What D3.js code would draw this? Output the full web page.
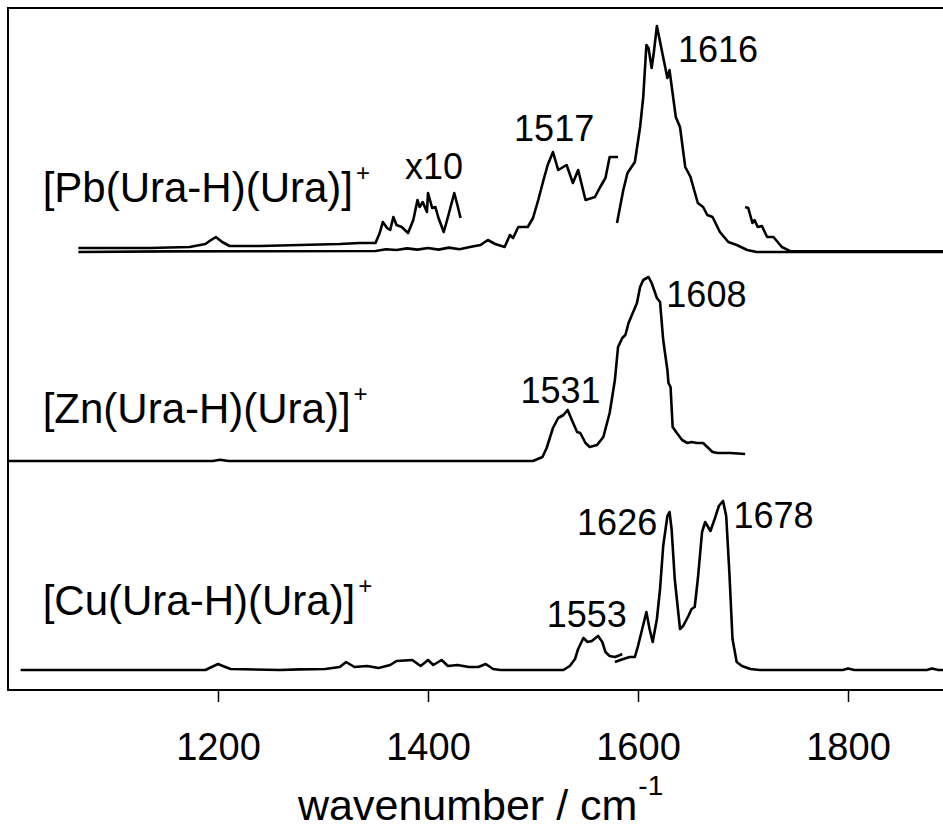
<!DOCTYPE html>
<html>
<head>
<meta charset="utf-8">
<script src="https://cdn.jsdelivr.net/npm/d3@7"></script>
<style>
  body { margin: 0; background: #fff; }
  svg { display: block; font-family: "Liberation Sans", Arial, sans-serif; }
</style>
</head>
<body>
<div id="spectra"></div>
<script>
// IRMPD spectra of [M(Ura-H)(Ura)]+ complexes, stacked

// --- data: [wavenumber, intensity] (intensity in arbitrary units) ---

// Pb, low-energy scan (up to ~1580)
const pbLow = [
  [1067, 0], [1150, 0.003], [1250, 0.004], [1350, 0.005], [1360, 0.014], [1370, 0.01],
  [1380, 0.018], [1390, 0.012], [1400, 0.02], [1410, 0.012], [1420, 0.022], [1430, 0.014],
  [1440, 0.025], [1450, 0.035], [1457, 0.06], [1464, 0.04], [1473, 0.025], [1478, 0.085],
  [1481, 0.07], [1486, 0.125], [1495, 0.125], [1500, 0.17], [1505, 0.26], [1510, 0.36],
  [1514, 0.435], [1519, 0.5], [1524, 0.41], [1532, 0.435], [1538, 0.345], [1543, 0.41],
  [1550, 0.26], [1559, 0.275], [1564, 0.325], [1569, 0.37], [1573, 0.475], [1581, 0.475]
];

// Pb, same low range shown x10
const pbX10 = [
  [1067, 0.02], [1135, 0.02], [1173, 0.025], [1188, 0.04], [1192, 0.055], [1198, 0.075],
  [1204, 0.05], [1211, 0.03], [1240, 0.03], [1278, 0.035], [1316, 0.04], [1335, 0.045],
  [1350, 0.045], [1354, 0.095], [1357, 0.15], [1361, 0.12], [1364, 0.11], [1367, 0.175],
  [1370, 0.135], [1375, 0.125], [1381, 0.095], [1386, 0.16], [1390, 0.26], [1392, 0.225],
  [1395, 0.25], [1399, 0.2], [1400, 0.295], [1404, 0.22], [1407, 0.225], [1410, 0.17],
  [1415, 0.1], [1419, 0.175], [1425, 0.295], [1428, 0.235], [1431, 0.17]
];

// Pb, high-energy scan (from ~1580)
const pbHigh = [
  [1580, 0.145], [1586, 0.31], [1590, 0.395], [1597, 0.45], [1602, 0.625], [1605, 0.775],
  [1608, 1.035], [1610, 1.02], [1613, 0.92], [1615, 0.995], [1618, 1.13], [1622, 1.025],
  [1628, 0.87], [1630, 0.91], [1636, 0.675], [1640, 0.625], [1645, 0.425], [1650, 0.375],
  [1654, 0.3], [1657, 0.245], [1662, 0.225], [1666, 0.185], [1671, 0.175], [1678, 0.1],
  [1686, 0.05], [1694, 0.035], [1704, 0.01], [1713, 0], [1900, 0]
];

// Pb, extra piece from ~1700
const pbTail = [
  [1702, 0.225], [1705, 0.22], [1709, 0.145], [1711, 0.16], [1714, 0.125], [1718, 0.13],
  [1723, 0.075], [1729, 0.075], [1737, 0.025], [1745, 0.004], [1900, 0.004]
];

// Zn
const znSpec = [
  [1000, 0], [1195, 0], [1202, 0.006], [1210, 0], [1500, 0], [1509, 0.02], [1513, 0.065],
  [1519, 0.165], [1524, 0.215], [1529, 0.23], [1533, 0.255], [1537, 0.205], [1542, 0.145],
  [1545, 0.14], [1550, 0.09], [1554, 0.07], [1561, 0.08], [1567, 0.12], [1573, 0.24],
  [1578, 0.405], [1581, 0.57], [1585, 0.615], [1588, 0.63], [1591, 0.69], [1595, 0.74],
  [1599, 0.79], [1602, 0.87], [1605, 0.905], [1610, 0.92], [1613, 0.89], [1618, 0.815],
  [1621, 0.795], [1624, 0.605], [1628, 0.455], [1629, 0.39], [1631, 0.37], [1633, 0.17],
  [1637, 0.14], [1642, 0.105], [1647, 0.09], [1651, 0.095], [1656, 0.09], [1662, 0.09],
  [1667, 0.065], [1671, 0.045], [1676, 0.04], [1688, 0.04], [1702, 0.035]
];

// Cu, low scan
const cuLow = [
  [1012, 0], [1188, 0], [1194, 0.015], [1200, 0.03], [1207, 0.015], [1212, 0.005],
  [1259, 0], [1278, 0.003], [1302, 0.005], [1316, 0.015], [1322, 0.04], [1330, 0.015],
  [1342, 0.02], [1353, 0.01], [1364, 0.025], [1370, 0.045], [1385, 0.05], [1393, 0.02],
  [1400, 0.05], [1405, 0.025], [1413, 0.05], [1419, 0.02], [1428, 0.025], [1439, 0.015],
  [1448, 0.015], [1455, 0.03], [1462, 0.005], [1469, 0], [1529, 0], [1535, 0.02],
  [1540, 0.055], [1543, 0.105], [1548, 0.16], [1552, 0.14], [1556, 0.145], [1562, 0.17],
  [1566, 0.14], [1569, 0.09], [1573, 0.07], [1578, 0.065], [1583, 0.075], [1585, 0.08]
];

// Cu, high scan
const cuHigh = [
  [1578, 0.04], [1586, 0.055], [1592, 0.065], [1597, 0.065], [1600, 0.12], [1604, 0.205],
  [1608, 0.29], [1611, 0.205], [1614, 0.14], [1618, 0.255], [1621, 0.405], [1624, 0.62],
  [1628, 0.77], [1630, 0.79], [1632, 0.705], [1635, 0.455], [1640, 0.205], [1643, 0.22],
  [1648, 0.27], [1651, 0.305], [1654, 0.315], [1657, 0.455], [1661, 0.69], [1664, 0.74],
  [1669, 0.695], [1673, 0.755], [1677, 0.82], [1681, 0.845], [1684, 0.77], [1687, 0.49],
  [1690, 0.155], [1694, 0.04], [1699, 0.02], [1707, 0.005], [1716, 0], [1795, 0],
  [1800, 0.008], [1806, 0], [1875, 0], [1880, 0.008], [1886, 0], [1900, 0]
];

// vertical offsets of the stacked traces
const offsets = { Pb: 2.09, Zn: 1.045, Cu: 0 };

const xTicks = [1200, 1400, 1600, 1800];

// peak labels: text, wavenumber (left edge), level
const peakLabels = [
  { text: "x10", wn: 1378, v: 2.455 },
  { text: "1517", wn: 1482, v: 2.645 },
  { text: "1616", wn: 1638, v: 3.04 },
  { text: "1531", wn: 1488, v: 1.335 },
  { text: "1608", wn: 1627, v: 1.815 },
  { text: "1553", wn: 1513, v: 0.215 },
  { text: "1626", wn: 1542, v: 0.675 },
  { text: "1678", wn: 1691, v: 0.71 }
];

const speciesLabels = [
  { metal: "Pb", wn: 1033, v: 2.34 },
  { metal: "Zn", wn: 1033, v: 1.235 },
  { metal: "Cu", wn: 1033, v: 0.275 }
];


// set the dimensions and margins of the graph
const margin = {top: 8, right: 0, bottom: 142, left: 8},
    width = 945,
    height = 682;

const svg = d3.select("#spectra")
  .append("svg")
    .attr("width", 943)
    .attr("height", 832)
  .append("g")
    .attr("transform", `translate(${margin.left}, ${margin.top})`);

// scales
const x = d3.scaleLinear()
  .domain([1000, 1900])
  .range([0, width]);

const y = d3.scaleLinear()
  .domain([-0.1, 3.31])
  .range([height, 0]);

// frame
svg.append("rect")
  .attr("x", 0)
  .attr("y", 0)
  .attr("width", width)
  .attr("height", height)
  .attr("fill", "none")
  .attr("stroke", "#000")
  .attr("stroke-width", 2);

// X axis
const xAxis = svg.append("g")
  .attr("transform", `translate(0, ${height})`)
  .call(d3.axisBottom(x).tickValues(xTicks).tickSize(12).tickPadding(31).tickFormat(d3.format("d")));
xAxis.select(".domain").remove();
xAxis.selectAll(".tick line").attr("stroke-width", 1.5);
xAxis.selectAll(".tick text")
  .attr("font-size", 38)
  .attr("font-family", "Liberation Sans, Arial, sans-serif")
  .attr("fill", "#000");

// axis title (svg is shifted by the margin, so subtract it)
const title = svg.append("text")
  .attr("x", 298 - margin.left)
  .attr("y", 820 - margin.top)
  .attr("font-size", 43);
title.append("tspan").text("wavenumber / cm");
title.append("tspan").attr("font-size", 28).attr("dx", 1).attr("dy", -25).text("-1");

// traces
const line = function(off) {
  return d3.line()
    .x(function(d) { return x(d[0]); })
    .y(function(d) { return y(d[1] + off); });
};

const traces = [
  { data: pbX10, off: offsets.Pb },
  { data: pbLow, off: offsets.Pb },
  { data: pbHigh, off: offsets.Pb },
  { data: pbTail, off: offsets.Pb },
  { data: znSpec, off: offsets.Zn },
  { data: cuLow, off: offsets.Cu },
  { data: cuHigh, off: offsets.Cu }
];

svg.selectAll(".trace")
  .data(traces)
  .enter()
  .append("path")
    .attr("class", "trace")
    .attr("d", function(d) { return line(d.off)(d.data); })
    .attr("fill", "none")
    .attr("stroke", "#000")
    .attr("stroke-width", 2.6)
    .attr("stroke-linejoin", "round");

// peak labels
svg.selectAll(".peak")
  .data(peakLabels)
  .enter()
  .append("text")
    .attr("class", "peak")
    .attr("x", function(d) { return x(d.wn); })
    .attr("y", function(d) { return y(d.v); })
    .attr("font-size", 36)
    .text(function(d) { return d.text; });

// species labels with superscript +
speciesLabels.forEach(function(d) {
  const t = svg.append("text")
    .attr("x", x(d.wn))
    .attr("y", y(d.v))
    .attr("font-size", 42);
  t.append("tspan").text("[" + d.metal + "(Ura-H)(Ura)]");
  t.append("tspan").attr("font-size", 24).attr("dx", 3).attr("dy", -21).text("+");
});
</script>
</body>
</html>
